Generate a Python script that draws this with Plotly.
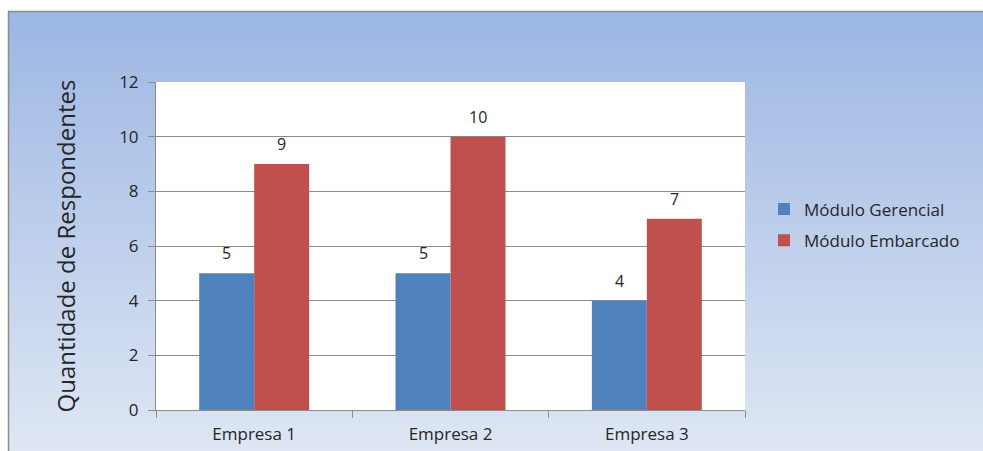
import plotly.graph_objects as go

categories = ["Empresa 1", "Empresa 2", "Empresa 3"]
gerencial = [5, 5, 4]
embarcado = [9, 10, 7]
series_names = ["Módulo Gerencial", "Módulo Embarcado"]
y_ticks = [0, 2, 4, 6, 8, 10, 12]

W, H = 983, 451
L, R, T, B = 156, 745, 82, 410  # plot area in pixels


def px_x(p):
    return (p - L) / (R - L)


def px_y(p):
    return (B - p) / (B - T)


font_family = "Open Sans, Liberation Sans, sans-serif"
text_color = "#262626"
colors = ["#4f81bd", "#c0504d"]

fig = go.Figure()
for name, vals, col, grp in [(series_names[0], gerencial, colors[0], "a"),
                             (series_names[1], embarcado, colors[1], "b")]:
    fig.add_trace(go.Bar(x=categories, y=vals, name=name, marker_color=col,
                         marker_line_width=0, legendgroup=grp))

# value labels above bars
annotations = []
for vals, shift in [(gerencial, -27.5), (embarcado, 27.5)]:
    for c, v in zip(categories, vals):
        annotations.append(dict(x=c, y=v, text=str(v), showarrow=False, xref="x", yref="y",
                                xshift=shift, yanchor="bottom", yshift=7,
                                font=dict(size=16, color=text_color)))

# gradient background bands
shapes = []
top_c = (0x9c, 0xb6, 0xe3)
bot_c = (0xdf, 0xe7, 0xf4)
y0p, y1p = 11, H + 5
n = 80
for i in range(n):
    a = y0p + (y1p - y0p) * i / n
    b = y0p + (y1p - y0p) * (i + 1) / n
    t = (i + 0.5) / n
    c = tuple(round(top_c[k] + (bot_c[k] - top_c[k]) * t) for k in range(3))
    shapes.append(dict(type="rect", xref="paper", yref="paper",
                       x0=px_x(8), x1=px_x(W + 5), y0=px_y(a), y1=px_y(min(b + 3, y1p)),
                       fillcolor="rgb(%d,%d,%d)" % c, line=dict(width=0), layer="below"))
# white plot area
shapes.append(dict(type="rect", xref="paper", yref="paper", x0=0, x1=1, y0=0, y1=1,
                   fillcolor="white", line=dict(width=0), layer="below"))
# chart border
shapes.append(dict(type="rect", xref="paper", yref="paper",
                   x0=px_x(8.5), x1=px_x(W + 10), y0=px_y(11.5), y1=px_y(H + 10),
                   fillcolor="rgba(0,0,0,0)", line=dict(color="#8c8c8c", width=1.5),
                   layer="above"))

fig.update_layout(
    width=W, height=H,
    margin=dict(l=L, r=W - R, t=T, b=H - B, pad=0, autoexpand=False),
    paper_bgcolor="white", plot_bgcolor="rgba(0,0,0,0)",
    barmode="group", bargap=0.44, bargroupgap=0,
    font=dict(family=font_family, color=text_color),
    shapes=shapes, annotations=annotations,
    showlegend=True,
    legend=dict(x=px_x(764), y=px_y(225), xanchor="left", yanchor="middle",
                font=dict(size=17, color=text_color), bgcolor="rgba(0,0,0,0)",
                tracegroupgap=6, itemwidth=30),
)
fig.update_yaxes(range=[0, 12], tickvals=y_ticks, showgrid=True, gridcolor="#8c8c8c",
                 gridwidth=1, showline=True, linecolor="#8c8c8c", linewidth=1,
                 ticks="outside", ticklen=7, tickcolor="#8c8c8c",
                 ticklabelstandoff=6, automargin=False,
                 tickfont=dict(size=17, color=text_color), zeroline=False,
                 title=dict(text="Quantidade de Respondentes", font=dict(size=24, color=text_color),
                            standoff=36))
fig.update_xaxes(showline=True, linecolor="#8c8c8c", linewidth=1, ticks="outside",
                 tickson="boundaries", ticklen=7, tickcolor="#8c8c8c",
                 ticklabelstandoff=9, automargin=False,
                 tickfont=dict(size=17, color=text_color), showgrid=False)

fig.write_html("out.html")
